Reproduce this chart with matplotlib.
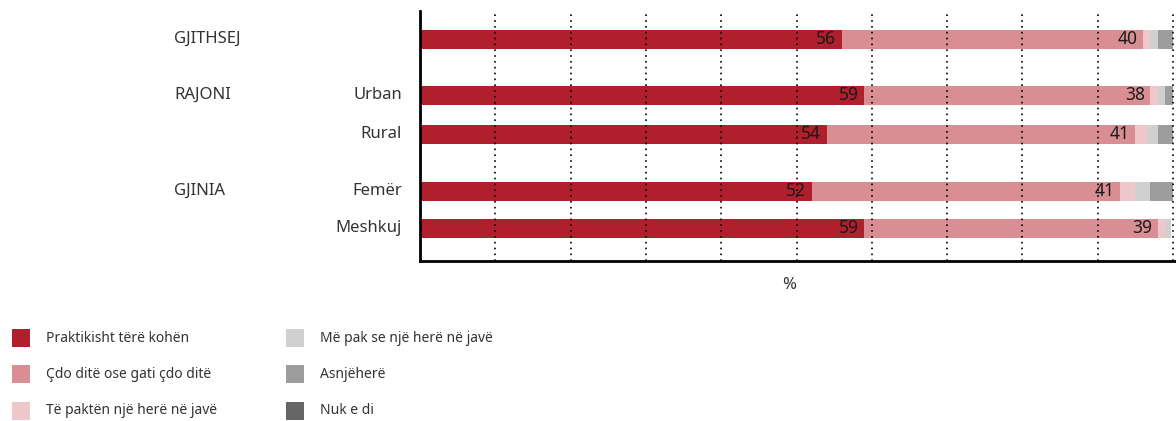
import matplotlib
import matplotlib.pyplot as plt
from matplotlib.patches import Rectangle
from matplotlib.transforms import blended_transform_factory

matplotlib.use("Agg")

plt.rcParams["font.family"] = ["Noto Sans", "DejaVu Sans"]

W, H = 1176, 421

SERIES = [
    "Praktikisht tërë kohën",
    "Çdo ditë ose gati çdo ditë",
    "Të paktën një herë në javë",
    "Më pak se një herë në javë",
    "Asnjëherë",
    "Nuk e di",
]
COLORS = ["#b01f2c", "#d88e93", "#eec7ca", "#d0d0d0", "#9d9d9d", "#666666"]

ROWS = ["Total", "Urban", "Rural", "Femër", "Meshkuj"]
ROW_LABELS = ["", "Urban", "Rural", "Femër", "Meshkuj"]
GROUPS = [("GJITHSEJ", 0), ("RAJONI", 1), ("GJINIA", 3)]

# values per row, in series order
VALUES = [
    [56, 40, 1, 1, 2, 0],
    [59, 38, 1, 1, 1, 0],
    [54, 41, 1.5, 1.5, 2, 0],
    [52, 41, 2, 2, 3, 0],
    [59, 39, 1, 0.8, 0, 0],
]

# bar centres, in pixel rows of the original layout
Y_POS = [39, 95, 134, 191, 228]
BAR_H = 19


def main():
    fig = plt.figure(figsize=(W / 100, H / 100), dpi=100)
    ax = fig.add_axes([420 / W, (H - 261) / H, (W - 420) / W, 250 / H])

    for r, vals in enumerate(VALUES):
        left = 0
        for s, v in enumerate(vals):
            if v > 0:
                ax.barh(Y_POS[r], v, left=left, height=BAR_H, color=COLORS[s],
                        edgecolor="none", zorder=1)
            if s < 2:
                ax.annotate(f"{v:.0f}", (left + v, Y_POS[r]), textcoords="offset points",
                            xytext=(-4, 0), ha="right", va="center", fontsize=12.5,
                            color="#1a1a1a", zorder=4)
            left += v

    for gx in range(10, 101, 10):
        ax.axvline(gx, color="black", linestyle=(0, (1, 2.5)), linewidth=1.2, zorder=3)

    ax.set_xlim(0, (W - 420) / 7.53)
    ax.set_ylim(261, 11)
    ax.set_xticks([])
    ax.set_yticks([])
    for side in ["top", "right"]:
        ax.spines[side].set_visible(False)
    for side in ["left", "bottom"]:
        ax.spines[side].set_linewidth(2)
        ax.spines[side].set_color("black")

    ax.text(49, 285, "%", ha="center", va="center", fontsize=12, color="#333333",
            clip_on=False)

    tr = blended_transform_factory(fig.transFigure, ax.transData)
    for name, idx in GROUPS:
        ax.text(174 / W, Y_POS[idx], name, transform=tr, ha="left", va="center",
                fontsize=12, color="#333333")
    for r, lab in enumerate(ROW_LABELS):
        if lab:
            ax.text(402 / W, Y_POS[r], lab, transform=tr, ha="right", va="center",
                    fontsize=12, color="#333333")

    # legend, two columns of three
    for i, (name, col) in enumerate(zip(SERIES, COLORS)):
        cx = 12 if i < 3 else 286
        cy = [338, 374, 411][i % 3]
        fig.add_artist(Rectangle((cx / W, (H - cy - 9) / H), 18 / W, 18 / H,
                                 transform=fig.transFigure, facecolor=col,
                                 edgecolor="none"))
        fig.text((cx + 34) / W, (H - cy) / H, name, ha="left", va="center",
                 fontsize=10, color="#333333")

    fig.savefig("out.png", dpi=100, facecolor="white")


if __name__ == "__main__":
    main()
